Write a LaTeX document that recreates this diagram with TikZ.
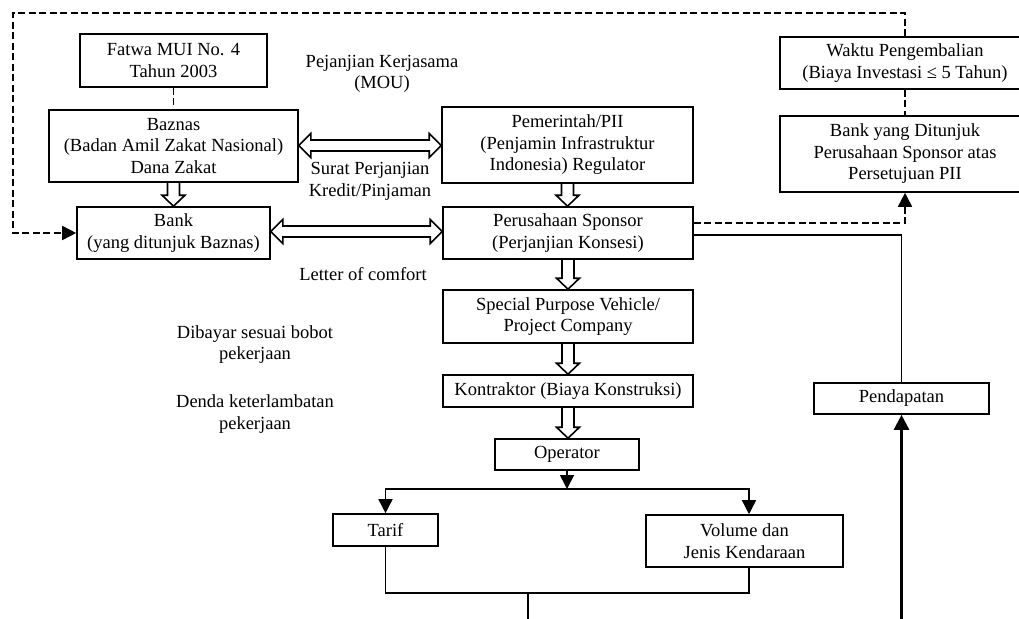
\documentclass[tikz,border=0pt]{standalone}
\usepackage{fontspec}
\setmainfont{Liberation Serif}
\usetikzlibrary{arrows.meta,calc}
\newcommand\myhdown[2]{\draw[hollow] let \p1=(#1.south), \p2=(#2.north) in
  (\x1-6pt,\y1) -- (\x1-6pt,\y2+11pt) -- (\x1-11.5pt,\y2+11pt) -- (\x1,\y2)
  -- (\x1+11.5pt,\y2+11pt) -- (\x1+6pt,\y2+11pt) -- (\x1+6pt,\y1);}
\newcommand\myhboth[3]{\draw[hollow] let \p1=(#1.east), \p2=(#2.west) in
  (\x1,\y1+#3) -- (\x1+12pt,\y1+#3+12pt) -- (\x1+12pt,\y1+#3+5.5pt) -- (\x2-12pt,\y1+#3+5.5pt)
  -- (\x2-12pt,\y1+#3+12pt) -- (\x2,\y1+#3) -- (\x2-12pt,\y1+#3-12pt) -- (\x2-12pt,\y1+#3-5.5pt)
  -- (\x1+12pt,\y1+#3-5.5pt) -- (\x1+12pt,\y1+#3-12pt) -- cycle;}
\begin{document}
\begin{tikzpicture}[x=1pt,y=-1pt,
  font=\fontsize{18.5}{21.5}\selectfont,
  box/.style={draw,line width=1.6pt,inner sep=0pt,align=center},
  ln/.style={line width=1.6pt},
  dsh/.style={line width=1.6pt,dash pattern=on 7pt off 3.5pt},
  tip/.style={-{Triangle[length=14pt,width=14pt]}},
  hollow/.style={line width=1.6pt,line join=miter},
  lbl/.style={align=center,inner sep=0pt}]
\useasboundingbox (0,0) rectangle (1019,618);
\clip (0,0) rectangle (1019,618);
% boxes
\node[box,minimum width=187pt,minimum height=53pt] (fatwa) at (173.5,60.5) {Fatwa MUI No. 4\\Tahun 2003};
\node[box,minimum width=249pt,minimum height=72pt] (baznas) at (173.5,146) {Baznas\\(Badan Amil Zakat Nasional)\\Dana Zakat};
\node[box,minimum width=193pt,minimum height=52pt] (bank) at (173.5,233) {Bank\\(yang ditunjuk Baznas)};
\node[box,minimum width=251pt,minimum height=76pt] (pem) at (567.5,145) {Pemerintah/PII\\(Penjamin Infrastruktur\\Indonesia) Regulator};
\node[box,minimum width=250pt,minimum height=52pt] (pers) at (568,233) {Perusahaan Sponsor\\(Perjanjian Konsesi)};
\node[box,minimum width=250pt,minimum height=53pt] (spv) at (568,316.5) {Special Purpose Vehicle/\\Project Company};
\node[box,minimum width=250pt,minimum height=32pt] (kon) at (568,391) {Kontraktor (Biaya Konstruksi)};
\node[box,minimum width=144pt,minimum height=31pt] (op) at (567,454.5) {Operator};
\node[box,minimum width=105pt,minimum height=32pt] (tarif) at (385.5,530) {Tarif};
\node[box,minimum width=197pt,minimum height=52pt] (vol) at (744.5,541) {Volume dan\\Jenis Kendaraan};
\node[box,minimum width=175pt,minimum height=31pt] (pend) at (901.5,398.5) {Pendapatan};
\node[box,minimum width=250pt,minimum height=52pt] (waktu) at (905,63) {Waktu Pengembalian\\(Biaya Investasi ≤ 5 Tahun)};
\node[box,minimum width=250pt,minimum height=76pt] (banky) at (905,154) {Bank yang Ditunjuk\\Perusahaan Sponsor atas\\Persetujuan PII};
% free labels
\node[lbl] (mou) at (382,74) {Pejanjian Kerjasama\\(MOU)};
\node[lbl] (surat) at (370,181.5) {Surat Perjanjian\\Kredit/Pinjaman};
\node[lbl] (loc) at (363,274) {Letter of comfort};
\node[lbl] (bayar) at (255,344.5) {Dibayar sesuai bobot\\pekerjaan};
\node[lbl] (denda) at (255,414) {Denda keterlambatan\\pekerjaan};
% coordinates
\coordinate (c2) at (13,13);
\coordinate (pb) at (901.5,630);
\coordinate (j) at (567,489);
\coordinate (b1) at (528,592);
\coordinate (bb) at (528,630);
% dashed connectors
\draw[dsh,tip] (waktu.north) |- (c2) |- (bank.west);
\draw[dsh] (fatwa.south) -- (baznas.north);
\draw[dsh] (waktu.south) -- (banky.north);
\draw[dsh,tip] ($(pers.east)+(0,-10)$) -| (banky.south);
% solid connectors
\draw[ln] ($(pers.east)+(0,2)$) -| (pend.north);
\draw[line width=2.4pt,-{Triangle[length=15pt,width=15pt]}] (pb) -- (pend.south);
\draw[ln,tip] (op.south) -- (j);
\draw[ln,tip] (j) -| (tarif.north);
\draw[ln,tip] (j) -| ($(vol.north)+(4.5,0)$);
\draw[ln] (tarif.south) |- ($(vol.south)+(4.5,25)$) -- ($(vol.south)+(4.5,0)$);
\draw[ln] (b1) -- (bb);
% hollow arrows
\myhdown{baznas}{bank}
\myhdown{pem}{pers}
\myhdown{pers}{spv}
\myhdown{spv}{kon}
\myhdown{kon}{op}
\myhboth{baznas}{pem}{0.5pt}
\myhboth{bank}{pers}{1.5pt}
\end{tikzpicture}
\end{document}
